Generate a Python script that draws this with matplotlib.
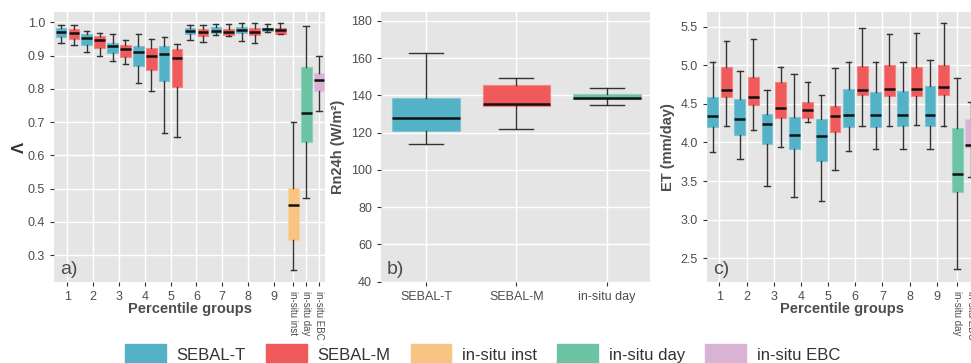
import matplotlib
matplotlib.use('Agg')
import matplotlib.pyplot as plt
from matplotlib.patches import Patch
import numpy as np

plt.rcParams['font.family'] = ['Liberation Sans', 'DejaVu Sans']

# --- data -----------------------------------------------------------------
groups = ['1', '2', '3', '4', '5', '6', '7', '8', '9']

# panel a) : Lambda  (low whisker, q1, median, q3, high whisker)
lam_t_lo = [0.938, 0.911, 0.885, 0.818, 0.666, 0.946, 0.963, 0.943, 0.970]
lam_t_q1 = [0.957, 0.933, 0.908, 0.870, 0.824, 0.964, 0.968, 0.969, 0.974]
lam_t_md = [0.971, 0.952, 0.930, 0.910, 0.906, 0.974, 0.975, 0.978, 0.980]
lam_t_q3 = [0.982, 0.966, 0.938, 0.930, 0.930, 0.983, 0.985, 0.985, 0.984]
lam_t_hi = [0.991, 0.973, 0.965, 0.966, 0.957, 0.993, 0.996, 0.997, 0.995]

lam_m_lo = [0.933, 0.900, 0.875, 0.793, 0.654, 0.941, 0.960, 0.939, 0.964]
lam_m_q1 = [0.950, 0.922, 0.895, 0.857, 0.806, 0.958, 0.961, 0.963, 0.965]
lam_m_md = [0.969, 0.947, 0.921, 0.900, 0.893, 0.971, 0.971, 0.971, 0.977]
lam_m_q3 = [0.979, 0.958, 0.933, 0.923, 0.919, 0.979, 0.980, 0.982, 0.982]
lam_m_hi = [0.992, 0.969, 0.946, 0.951, 0.936, 0.993, 0.994, 0.997, 0.997]

lam_insitu_labels = ['in-situ inst', 'in-situ day', 'in-situ EBC']
lam_insitu = [[0.256, 0.346, 0.452, 0.502, 0.701],
              [0.472, 0.640, 0.728, 0.867, 0.988],
              [0.732, 0.792, 0.826, 0.849, 0.898]]

# panel b) : Rn24h
rn_labels = ['SEBAL-T', 'SEBAL-M', 'in-situ day']
rn_stats = [[114.0, 121.1, 127.7, 138.8, 162.9],
            [121.7, 134.3, 135.2, 145.4, 149.3],
            [134.7, 138.1, 138.8, 140.6, 143.8]]

# panel c) : ET
et_t_lo = [3.872, 3.786, 3.432, 3.298, 3.237, 3.894, 3.911, 3.911, 3.920]
et_t_q1 = [4.200, 4.101, 3.976, 3.915, 3.764, 4.205, 4.200, 4.218, 4.209]
et_t_md = [4.339, 4.308, 4.235, 4.101, 4.084, 4.360, 4.351, 4.356, 4.356]
et_t_q3 = [4.589, 4.559, 4.364, 4.330, 4.308, 4.693, 4.654, 4.662, 4.736]
et_t_hi = [5.047, 4.930, 4.675, 4.891, 4.611, 5.042, 5.047, 5.042, 5.064]

et_m_lo = [4.209, 4.166, 3.941, 4.261, 3.643, 4.218, 4.218, 4.231, 4.213]
et_m_q1 = [4.593, 4.490, 4.313, 4.321, 4.136, 4.615, 4.606, 4.606, 4.619]
et_m_md = [4.684, 4.593, 4.451, 4.421, 4.339, 4.680, 4.693, 4.693, 4.714]
et_m_q3 = [4.982, 4.844, 4.783, 4.524, 4.477, 4.986, 4.999, 4.982, 5.003]
et_m_hi = [5.310, 5.336, 4.973, 4.779, 4.969, 5.483, 5.405, 5.418, 5.543]

et_insitu_labels = ['in-situ day', 'in-situ EBC']
et_insitu = [[2.357, 3.358, 3.596, 4.192, 4.839],
             [3.557, 3.933, 3.972, 4.300, 4.520]]

legend_labels = ['SEBAL-T', 'SEBAL-M', 'in-situ inst', 'in-situ day', 'in-situ EBC']

# --- style ----------------------------------------------------------------
C_T = '#54B2C7'
C_M = '#F05A5A'
C_INST = '#F8C481'
C_DAY = '#6CC4A4'
C_EBC = '#D9B3D4'
EDGE = {C_T: '#7BC5D6', C_M: '#F58585', C_INST: '#FAD3A3',
        C_DAY: '#8FD2B9', C_EBC: '#E4C8E0'}
TXT = '#4D4D4D'


def draw_boxes(ax, pos, stats, colors, width):
    st = [dict(whislo=s[0], q1=s[1], med=s[2], q3=s[3], whishi=s[4]) for s in stats]
    bp = ax.bxp(st, positions=pos, widths=width, capwidths=width * 0.5,
                patch_artist=True, showfliers=False, manage_ticks=False,
                medianprops=dict(color='#111111', linewidth=1.8, solid_capstyle='butt'),
                whiskerprops=dict(color='#333333', linewidth=1.0),
                capprops=dict(color='#333333', linewidth=1.0))
    for box, c in zip(bp['boxes'], colors):
        box.set_facecolor(c)
        box.set_edgecolor(EDGE[c])
        box.set_linewidth(0.8)
    return bp


def style_axes(ax):
    ax.set_facecolor('#E5E5E5')
    for s in ax.spines.values():
        s.set_visible(False)
    ax.grid(True, color='white', linewidth=1.0)
    ax.set_axisbelow(True)
    ax.tick_params(colors='#333333', labelcolor=TXT, labelsize=9, length=3, width=0.8)


def panel_tag(ax, txt):
    ax.annotate(txt, xy=(0, 0), xycoords='axes fraction', xytext=(6, 8),
                textcoords='offset pixels', fontsize=14, color=TXT, ha='left', va='baseline')


def rotate_last(ax, n):
    for lbl in ax.get_xticklabels()[-n:]:
        lbl.set_rotation(270)
        lbl.set_fontsize(7)
        lbl.set_va('top')
        lbl.set_ha('center')


def group_xlabel(ax):
    # ggplot puts the title right under the numeric ticks, beside the rotated ones
    ax.set_xlabel('Percentile groups', fontsize=10.5, fontweight='bold', color=TXT)
    ax.xaxis.set_label_coords(0.5, -0.075)
    ax.xaxis.label.set_va('top')


W, H = 971, 363
fig = plt.figure(figsize=(W / 100, H / 100), dpi=100)


def add_ax(left, right, top=12, bottom=282):
    return fig.add_axes([left / W, 1 - bottom / H, (right - left) / W, (bottom - top) / H])


gpos = np.arange(1, len(groups) + 1)
off, bw = 0.25, 0.41

# a)
ax = add_ax(54, 325)
style_axes(ax)
draw_boxes(ax, gpos - off, list(zip(lam_t_lo, lam_t_q1, lam_t_md, lam_t_q3, lam_t_hi)),
           [C_T] * 9, bw)
draw_boxes(ax, gpos + off, list(zip(lam_m_lo, lam_m_q1, lam_m_md, lam_m_q3, lam_m_hi)),
           [C_M] * 9, bw)
ipos = 9.75 + 0.5 * np.arange(len(lam_insitu))
draw_boxes(ax, ipos, lam_insitu, [C_INST, C_DAY, C_EBC], 0.42)
ax.set_xticks(list(gpos) + list(ipos))
ax.set_xticklabels(groups + lam_insitu_labels)
rotate_last(ax, 3)
ax.set_xlim(0.48, 10.98)
ax.set_ylim(0.219, 1.031)
ax.set_yticks(np.arange(0.3, 1.01, 0.1))
ax.set_yticklabels(['0.3', '0.4', '0.5', '0.6', '0.7', '0.8', '0.9', '1.0'])
group_xlabel(ax)
ax.set_ylabel('Λ', fontsize=12, fontweight='bold', color='#333333')
ax.yaxis.set_label_coords(-0.128, 0.5)
ax.yaxis.label.set_va('center')
panel_tag(ax, 'a)')

# b)
ax = add_ax(381, 650)
style_axes(ax)
bpos = np.arange(1, len(rn_labels) + 1)
draw_boxes(ax, bpos, rn_stats, [C_T, C_M, C_DAY], 0.75)
ax.set_xticks(bpos)
ax.set_xticklabels(rn_labels)
ax.set_xlim(0.5, 3.48)
ax.set_ylim(39.8, 184.8)
ax.set_yticks(np.arange(40, 181, 20))
ax.set_ylabel('Rn24h (W/m²)', fontsize=10.5, fontweight='bold', color=TXT, labelpad=4)
panel_tag(ax, 'b)')

# c)
ax = add_ax(707, 977)
style_axes(ax)
draw_boxes(ax, gpos - off, list(zip(et_t_lo, et_t_q1, et_t_md, et_t_q3, et_t_hi)),
           [C_T] * 9, 0.40)
draw_boxes(ax, gpos + off, list(zip(et_m_lo, et_m_q1, et_m_md, et_m_q3, et_m_hi)),
           [C_M] * 9, 0.40)
cpos = 9.75 + 0.5 * np.arange(len(et_insitu))
draw_boxes(ax, cpos, et_insitu, [C_DAY, C_EBC], 0.40)
ax.set_xticks(list(gpos) + list(cpos))
ax.set_xticklabels(groups + et_insitu_labels)
rotate_last(ax, 2)
ax.set_xlim(0.54, 10.48)
ax.set_ylim(2.193, 5.69)
ax.set_yticks(np.arange(2.5, 5.51, 0.5))
ax.set_yticklabels(['2.5', '3.0', '3.5', '4.0', '4.5', '5.0', '5.5'])
group_xlabel(ax)
ax.set_ylabel('ET (mm/day)', fontsize=10.5, fontweight='bold', color=TXT, labelpad=4)
panel_tag(ax, 'c)')

# legend
handles = [Patch(facecolor=c, edgecolor=c) for c in [C_T, C_M, C_INST, C_DAY, C_EBC]]
fig.legend(handles, legend_labels, ncol=5, loc='upper left',
           bbox_to_anchor=(125 / W, 1 - 344 / H), frameon=False, fontsize=12,
           handlelength=2.45, handleheight=1.5, handletextpad=0.65,
           columnspacing=1.2, borderpad=0, borderaxespad=0, labelcolor='#333333')

fig.savefig('out.png', dpi=100)
